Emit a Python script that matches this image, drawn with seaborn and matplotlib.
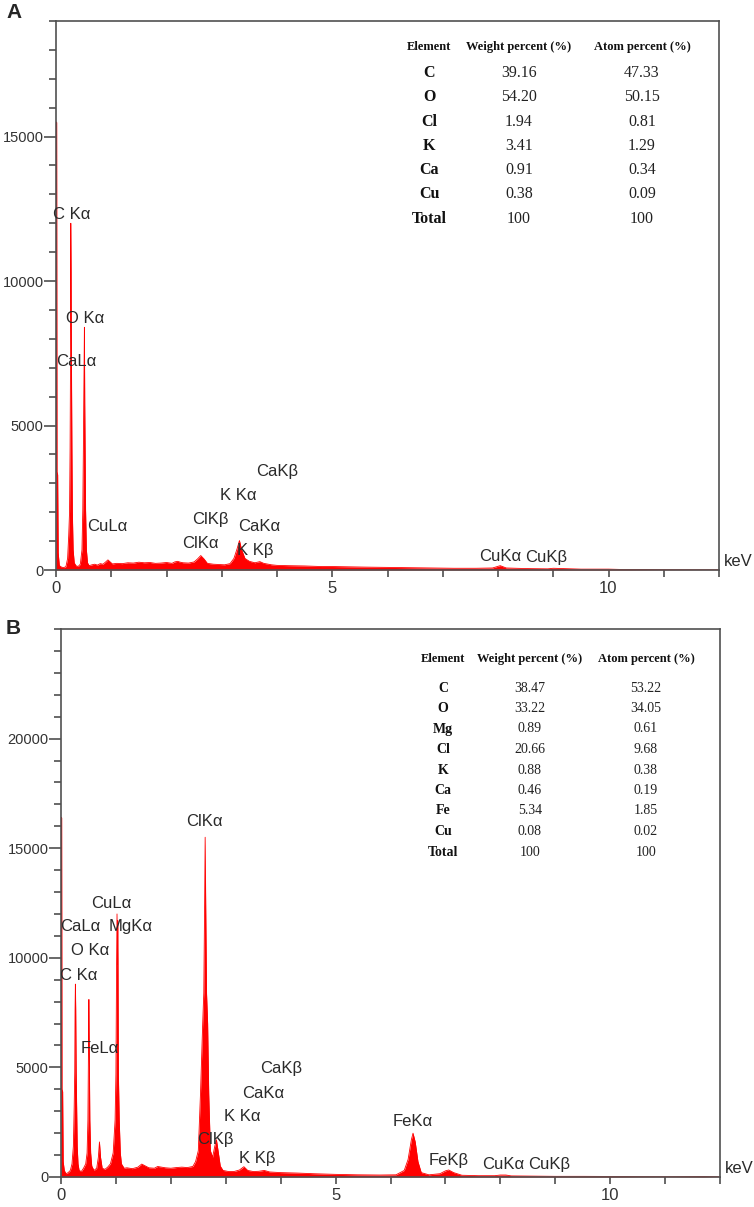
import matplotlib
matplotlib.use("Agg")
import matplotlib.pyplot as plt
import seaborn as sns
from matplotlib.ticker import MultipleLocator, FixedLocator

# EDS spectrum A (keV, counts)
energy_a = [0.000, 0.005, 0.012, 0.018, 0.030, 0.040, 0.060, 0.100, 0.140, 0.180,
            0.210, 0.230, 0.245, 0.255, 0.262, 0.268, 0.274, 0.280, 0.288, 0.296,
            0.310, 0.330, 0.360, 0.400, 0.440, 0.470, 0.485, 0.495, 0.502, 0.508,
            0.514, 0.520, 0.527, 0.535, 0.550, 0.570, 0.600, 0.650, 0.700, 0.750,
            0.800, 0.850, 0.900, 0.940, 0.980, 1.020, 1.100, 1.200, 1.300, 1.400,
            1.500, 1.600, 1.700, 1.800, 1.900, 2.000, 2.100, 2.150, 2.200, 2.250,
            2.300, 2.400, 2.500, 2.560, 2.620, 2.680, 2.740, 2.850, 2.950, 3.050,
            3.150, 3.220, 3.280, 3.320, 3.360, 3.420, 3.500, 3.600, 3.690, 3.760,
            3.900, 4.000, 4.200, 4.500, 4.800, 5.000, 5.300, 5.600, 6.000, 6.400,
            6.800, 7.200, 7.600, 7.900, 8.040, 8.150, 8.500, 8.900, 9.000, 9.500,
            10.00, 10.20, 11.00, 12.00]
counts_a = [0, 15500, 15500, 3400, 3300, 600, 150, 100, 80, 120,
            400, 1200, 2000, 4200, 7000, 12000, 10300, 7000, 4200, 2000,
            700, 250, 150, 120, 200, 700, 2100, 4100, 5800, 7000,
            8400, 5800, 4100, 2100, 700, 250, 150, 180, 200, 170,
            220, 200, 280, 350, 280, 210, 230, 220, 250, 240,
            270, 250, 260, 230, 240, 260, 230, 280, 300, 270,
            250, 240, 280, 380, 500, 380, 230, 200, 190, 180,
            220, 400, 750, 1020, 700, 400, 300, 250, 290, 230,
            180, 160, 150, 140, 120, 120, 110, 100, 90, 80,
            70, 60, 60, 70, 150, 70, 50, 40, 60, 30,
            30, 20, 10, 5]

# EDS spectrum B
energy_b = [0.000, 0.005, 0.012, 0.018, 0.030, 0.040, 0.060, 0.090, 0.130, 0.170,
            0.200, 0.225, 0.240, 0.250, 0.256, 0.262, 0.268, 0.276, 0.285, 0.295,
            0.310, 0.330, 0.370, 0.410, 0.450, 0.475, 0.490, 0.500, 0.508, 0.515,
            0.525, 0.540, 0.560, 0.600, 0.650, 0.680, 0.700, 0.720, 0.750, 0.800,
            0.850, 0.900, 0.950, 0.985, 1.000, 1.012, 1.020, 1.028, 1.035, 1.045,
            1.060, 1.080, 1.100, 1.150, 1.200, 1.300, 1.400, 1.470, 1.600, 1.700,
            1.760, 1.900, 2.000, 2.100, 2.200, 2.300, 2.400, 2.450, 2.500, 2.540,
            2.580, 2.600, 2.615, 2.625, 2.635, 2.650, 2.670, 2.690, 2.720, 2.760,
            2.800, 2.830, 2.860, 2.900, 2.950, 3.050, 3.150, 3.250, 3.330, 3.400,
            3.500, 3.600, 3.700, 3.800, 4.000, 4.300, 4.600, 5.000, 5.400, 5.800,
            6.100, 6.250, 6.320, 6.380, 6.410, 6.450, 6.500, 6.560, 6.700, 6.900,
            7.000, 7.060, 7.150, 7.300, 7.600, 7.900, 8.000, 8.100, 8.200, 8.600,
            9.000, 9.500, 10.00, 10.50, 11.00, 11.70, 12.00]
counts_b = [0, 16400, 16400, 4000, 3900, 700, 300, 150, 200, 300,
            600, 1400, 3200, 4800, 7600, 8800, 7600, 4800, 3200, 1400,
            600, 300, 250, 400, 600, 1100, 2600, 5800, 8100, 5800,
            2600, 1100, 500, 300, 400, 900, 1600, 900, 400, 350,
            450, 600, 1100, 2600, 4700, 9700, 12000, 9700, 11700, 4700,
            2600, 1100, 600, 400, 420, 380, 450, 590, 420, 400,
            480, 420, 400, 430, 450, 430, 480, 700, 1200, 3800,
            7000, 8400, 12400, 15500, 12400, 8400, 7000, 3800, 1200, 900,
            1400, 1700, 1200, 500, 300, 250, 250, 320, 470, 300,
            250, 260, 300, 230, 200, 180, 150, 120, 100, 90,
            100, 300, 800, 1700, 2000, 1600, 700, 200, 100, 150,
            280, 320, 200, 80, 60, 60, 90, 90, 50, 40,
            30, 30, 25, 15, 10, 20, 5]

# composition tables
elements_a = ["C", "O", "Cl", "K", "Ca", "Cu", "Total"]
weight_a = ["39.16", "54.20", "1.94", "3.41", "0.91", "0.38", "100"]
atom_a = ["47.33", "50.15", "0.81", "1.29", "0.34", "0.09", "100"]

elements_b = ["C", "O", "Mg", "Cl", "K", "Ca", "Fe", "Cu", "Total"]
weight_b = ["38.47", "33.22", "0.89", "20.66", "0.88", "0.46", "5.34", "0.08", "100"]
atom_b = ["53.22", "34.05", "0.61", "9.68", "0.38", "0.19", "1.85", "0.02", "100"]

# peak labels: (text, keV, counts)
peaks_a = [("C Kα", -0.05, 12300), ("O Kα", 0.19, 8700), ("CaLα", 0.0, 7200),
           ("CuLα", 0.56, 1500), ("ClKα", 2.29, 900), ("ClKβ", 2.47, 1740),
           ("K Kα", 2.97, 2570), ("CaKα", 3.30, 1500), ("K Kβ", 3.27, 670),
           ("CaKβ", 3.62, 3410), ("CuKα", 7.65, 460), ("CuKβ", 8.50, 430)]
peaks_b = [("ClKα", 2.27, 16200), ("CuLα", 0.54, 12500), ("CaLα", -0.01, 11450),
           ("MgKα", 0.86, 11450), ("O Kα", 0.18, 10350), ("C Kα", -0.02, 9200),
           ("FeLα", 0.36, 5850), ("CaKβ", 3.62, 4940), ("CaKα", 3.30, 3830),
           ("K Kα", 2.96, 2770), ("ClKβ", 2.48, 1730), ("K Kβ", 3.25, 850),
           ("FeKα", 6.04, 2550), ("FeKβ", 6.70, 770), ("CuKα", 7.67, 550),
           ("CuKβ", 8.50, 550)]

yticks_a = [0, 5000, 10000, 15000]
yticks_b = [0, 5000, 10000, 15000, 20000]

sns.set_style("ticks")
plt.rcParams["font.family"] = ["Liberation Sans", "DejaVu Sans"]

W, H = 754, 1207
fig = plt.figure(figsize=(W / 100, H / 100), dpi=100)


def px_axes(left, right, top, bottom):
    return fig.add_axes([left / W, 1 - bottom / H, (right - left) / W, (bottom - top) / H])


def draw_spectrum(ax, energy, counts, ymax, yticks, peaks):
    ax.fill_between(energy, counts, 0, color="#ff0000", linewidth=0)
    sns.lineplot(x=energy, y=counts, ax=ax, color="#ff0000", linewidth=0.6,
                 estimator=None, sort=False)
    ax.set_xlim(0, 12)
    ax.set_ylim(0, ymax)
    ax.xaxis.set_major_locator(MultipleLocator(5))
    ax.xaxis.set_minor_locator(MultipleLocator(1))
    ax.yaxis.set_major_locator(FixedLocator(yticks))
    ax.yaxis.set_minor_locator(MultipleLocator(1000))
    ax.tick_params(axis="y", which="major", length=8.5, width=1.1, color="#404040",
                   labelsize=10.5, labelcolor="#333333", pad=0.5)
    ax.tick_params(axis="y", which="minor", length=5, width=1.1, color="#404040")
    ax.tick_params(axis="x", which="both", length=5, width=1.1, color="#404040",
                   labelsize=12, labelcolor="#333333", pad=3)
    for s in ax.spines.values():
        s.set_color("#505050")
        s.set_linewidth(1.2)
    ax.set_xlabel("")
    ax.set_ylabel("")
    for txt, xk, yc in peaks:
        ax.text(xk, yc, txt, fontsize=12, color="#2a2a2a", ha="left", va="center")
    ax.text(12.08, ymax * 0.016, "keV", fontsize=12, color="#2a2a2a",
            ha="left", va="center")


def draw_table(elems, wts, ats, cols, y_head, y0, dy, hsize, esize, vsize):
    serif = ["Liberation Serif", "DejaVu Serif"]
    heads = ["Element", "Weight percent (%)", "Atom percent (%)"]
    for hx, ht in zip(cols, heads):
        fig.text(hx / W, 1 - y_head / H, ht, ha="center", va="center",
                 fontsize=hsize, fontweight="bold", family=serif, color="#111111")
    for i, (e, w, a) in enumerate(zip(elems, wts, ats)):
        yy = 1 - (y0 + i * dy) / H
        fig.text(cols[0] / W, yy, e, ha="center", va="center", fontsize=esize,
                 fontweight="bold", family=serif, color="#111111")
        fig.text(cols[1] / W, yy, w, ha="center", va="center", fontsize=vsize,
                 family=serif, color="#222222")
        fig.text(cols[2] / W, yy, a, ha="center", va="center", fontsize=vsize,
                 family=serif, color="#222222")


axA = px_axes(56, 719, 21, 570)
draw_spectrum(axA, energy_a, counts_a, 19000, yticks_a, peaks_a)
axB = px_axes(61, 720, 629, 1177)
draw_spectrum(axB, energy_b, counts_b, 25000, yticks_b, peaks_b)

draw_table(elements_a, weight_a, atom_a, [429, 519, 642], 47, 73, 24.3, 9, 11.5, 11.5)
draw_table(elements_b, weight_b, atom_b, [443, 530, 646], 659, 688, 20.5, 9, 10, 10)

fig.text(6 / W, 1 - 13 / H, "A", fontsize=15, fontweight="bold", va="center", ha="left")
fig.text(6 / W, 1 - 629 / H, "B", fontsize=15, fontweight="bold", va="center", ha="left")

fig.savefig("out.png", dpi=100)
